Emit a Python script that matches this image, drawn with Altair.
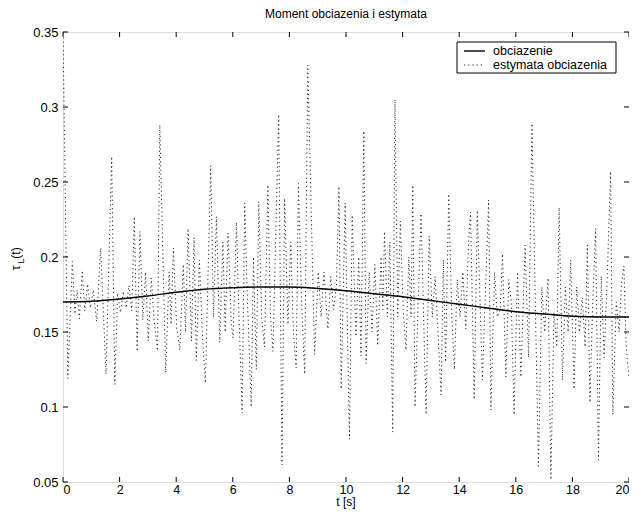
import altair as alt
import pandas as pd

# --- data -------------------------------------------------------------------
load_t = list(range(21))
load_v = [0.170, 0.1705, 0.172, 0.174, 0.1765, 0.1785, 0.1795, 0.180, 0.180, 0.179,
          0.1775, 0.1755, 0.1735, 0.171, 0.1685, 0.166, 0.1635, 0.162, 0.1605, 0.160, 0.160]

est_t = [0.00, 0.17, 0.33, 0.42, 0.50, 0.58, 0.68, 0.77, 0.87, 0.97, 1.07, 1.19, 1.33, 1.52,
         1.72, 1.83, 1.93, 2.03, 2.13, 2.23, 2.33, 2.43, 2.52, 2.62, 2.72, 2.82, 2.92, 3.01,
         3.12, 3.22, 3.34, 3.42, 3.63, 3.75, 3.82, 3.90, 4.02, 4.13, 4.25, 4.33, 4.42, 4.54,
         4.63, 4.71, 4.82, 4.92, 5.03, 5.22, 5.32, 5.42, 5.54, 5.65, 5.73, 5.83, 5.95, 6.01,
         6.13, 6.22, 6.33, 6.42, 6.52, 6.65, 6.73, 6.83, 6.92, 7.02, 7.12, 7.24, 7.33, 7.42,
         7.62, 7.74, 7.83, 7.95, 8.05, 8.14, 8.24, 8.32, 8.44, 8.54, 8.65, 8.89, 9.02, 9.12,
         9.22, 9.36, 9.46, 9.56, 9.66, 9.75, 9.83, 9.97, 10.12, 10.22, 10.35, 10.45, 10.53,
         10.63, 10.71, 10.82, 10.92, 11.02, 11.12, 11.24, 11.30, 11.36, 11.46, 11.55, 11.65,
         11.73, 11.83, 11.92, 12.02, 12.12, 12.22, 12.30, 12.36, 12.44, 12.55, 12.65, 12.83,
         12.94, 13.05, 13.15, 13.25, 13.36, 13.44, 13.52, 13.63, 13.74, 13.83, 13.93, 14.03,
         14.13, 14.23, 14.33, 14.40, 14.53, 14.64, 14.82, 15.04, 15.12, 15.25, 15.35, 15.45,
         15.53, 15.65, 15.75, 15.84, 15.94, 16.06, 16.18, 16.33, 16.45, 16.57, 16.80, 16.92,
         17.02, 17.14, 17.24, 17.35, 17.45, 17.53, 17.65, 17.75, 17.85, 17.94, 18.06, 18.15,
         18.25, 18.35, 18.45, 18.53, 18.62, 18.72, 18.82, 18.92, 19.02, 19.12, 19.22, 19.35,
         19.43, 19.55, 19.65, 19.73, 19.82, 19.90, 20.00]
est_v = [0.352, 0.119, 0.197, 0.162, 0.178, 0.159, 0.191, 0.164, 0.182, 0.166, 0.178, 0.157,
         0.206, 0.122, 0.267, 0.115, 0.176, 0.163, 0.177, 0.166, 0.181, 0.164, 0.227, 0.137,
         0.217, 0.158, 0.190, 0.144, 0.186, 0.158, 0.1375, 0.288, 0.123, 0.190, 0.155, 0.206,
         0.152, 0.138, 0.195, 0.150, 0.219, 0.144, 0.213, 0.131, 0.198, 0.150, 0.116, 0.261,
         0.160, 0.227, 0.143, 0.210, 0.150, 0.216, 0.155, 0.146, 0.223, 0.160, 0.096, 0.236,
         0.170, 0.100, 0.200, 0.125, 0.237, 0.160, 0.140, 0.248, 0.160, 0.137, 0.295, 0.0615,
         0.239, 0.155, 0.210, 0.150, 0.126, 0.249, 0.165, 0.122, 0.328, 0.135, 0.190, 0.160,
         0.190, 0.152, 0.187, 0.165, 0.180, 0.247, 0.112, 0.236, 0.0785, 0.228, 0.147, 0.200,
         0.134, 0.284, 0.129, 0.190, 0.150, 0.195, 0.141, 0.200, 0.165, 0.217, 0.160, 0.210,
         0.0833, 0.305, 0.160, 0.224, 0.165, 0.138, 0.200, 0.160, 0.248, 0.100, 0.170, 0.229,
         0.095, 0.214, 0.160, 0.187, 0.150, 0.108, 0.198, 0.130, 0.242, 0.160, 0.125, 0.185,
         0.160, 0.190, 0.152, 0.210, 0.230, 0.105, 0.231, 0.118, 0.238, 0.098, 0.190, 0.160,
         0.165, 0.202, 0.120, 0.185, 0.170, 0.0947, 0.190, 0.120, 0.208, 0.133, 0.289, 0.0605,
         0.180, 0.150, 0.186, 0.0515, 0.163, 0.140, 0.233, 0.118, 0.180, 0.150, 0.198, 0.112,
         0.180, 0.150, 0.173, 0.140, 0.208, 0.103, 0.170, 0.219, 0.0646, 0.187, 0.133, 0.180,
         0.257, 0.095, 0.170, 0.150, 0.181, 0.194, 0.140, 0.120]

series_names = ["obciazenie", "estymata obciazenia"]
x_ticks = [0, 2, 4, 6, 8, 10, 12, 14, 16, 18, 20]
y_ticks = [0.05, 0.1, 0.15, 0.2, 0.25, 0.3, 0.35]
chart_title = "Moment obciazenia i estymata"
x_title = "t [s]"

FONT = "Liberation Sans"
W, H = 566, 450
EST_DASH = [1.2, 3]
EST_COLOR = "#2a2a2a"

load_df = pd.DataFrame({"t": load_t, "v": load_v})
est_df = pd.DataFrame({"t": est_t, "v": est_v})
xt_df = pd.DataFrame({"t": x_ticks})
yt_df = pd.DataFrame({"v": y_ticks})

x_scale = alt.Scale(domain=[0, 20], nice=False, zero=False)
y_scale = alt.Scale(domain=[0.05, 0.35], nice=False, zero=False)

x_axis = alt.Axis(values=x_ticks, title=None, grid=False, ticks=False, domain=False,
                  labelPadding=1, labelFont=FONT, labelFontSize=12.5, labelColor="black")
y_axis = alt.Axis(values=y_ticks, title=None, grid=False, ticks=False, domain=False,
                  labelPadding=5, format="~g", labelFont=FONT, labelFontSize=13,
                  labelColor="black")

est_line = alt.Chart(est_df).mark_line(clip=True, color=EST_COLOR, strokeWidth=1,
                                       strokeDash=EST_DASH).encode(
    x=alt.X("t:Q", scale=x_scale, axis=x_axis),
    y=alt.Y("v:Q", scale=y_scale, axis=y_axis),
)

load_line = alt.Chart(load_df).mark_line(clip=True, color="black", strokeWidth=1.4,
                                         interpolate="monotone").encode(
    x=alt.X("t:Q", scale=x_scale),
    y=alt.Y("v:Q", scale=y_scale),
)

tick_style = dict(color="black", strokeWidth=1)
bottom_ticks = alt.Chart(xt_df).mark_rule(**tick_style).encode(
    x=alt.X("t:Q", scale=x_scale), y=alt.value(H), y2=alt.value(H - 5))
top_ticks = alt.Chart(xt_df).mark_rule(**tick_style).encode(
    x=alt.X("t:Q", scale=x_scale), y=alt.value(0), y2=alt.value(5))
left_ticks = alt.Chart(yt_df).mark_rule(**tick_style).encode(
    y=alt.Y("v:Q", scale=y_scale), x=alt.value(0), x2=alt.value(5))
right_ticks = alt.Chart(yt_df).mark_rule(**tick_style).encode(
    y=alt.Y("v:Q", scale=y_scale), x=alt.value(W), x2=alt.value(W - 5))


def txt(s, size, x, y, angle=0):
    return alt.Chart(pd.DataFrame({"s": [s]})).mark_text(
        font=FONT, fontSize=size, angle=angle, align="center", baseline="middle",
        color="black").encode(text="s:N", x=alt.value(x), y=alt.value(y))


# titles
title_txt = txt(chart_title, 12, W / 2, -18)
xtitle_txt = txt(x_title, 12, W / 2, H + 20)
# y-axis title  tau_L(t)  (rotated, with subscript)
tau = txt("τ", 13, -47, 236, 270)
sub_l = txt("L", 9, -42, 229, 270)
paren = txt("(t)", 12, -47, 221, 270)

# legend box (top-right, inside the axes)
leg_box = alt.Chart(pd.DataFrame({"a": [0]})).mark_rect(
    fill="white", stroke="black", strokeWidth=1).encode(
    x=alt.value(394), x2=alt.value(553), y=alt.value(10), y2=alt.value(41))
leg_l1 = alt.Chart(pd.DataFrame({"a": [0]})).mark_rule(color="black", strokeWidth=1.4).encode(
    x=alt.value(401), x2=alt.value(422), y=alt.value(19))
leg_l2 = alt.Chart(pd.DataFrame({"a": [0]})).mark_rule(
    color=EST_COLOR, strokeWidth=1, strokeDash=EST_DASH).encode(
    x=alt.value(401), x2=alt.value(422), y=alt.value(33))
leg_txt = alt.Chart(pd.DataFrame({"s": series_names, "yy": [19, 33]})).mark_text(
    font=FONT, fontSize=12.5, align="left", baseline="middle", color="black").encode(
    text="s:N", x=alt.value(430), y=alt.Y("yy:Q", scale=None))

chart = alt.layer(
    est_line, load_line, bottom_ticks, top_ticks, left_ticks, right_ticks,
    title_txt, xtitle_txt, tau, sub_l, paren, leg_box, leg_l1, leg_l2, leg_txt
).properties(
    width=W, height=H,
    autosize=alt.AutoSizeParams(type="none"),
    padding={"left": 55, "top": 24, "right": 0, "bottom": 27},
).configure_view(
    stroke="black", strokeWidth=1
).configure(background="white")

chart.save("out.html", embed_options={"renderer": "svg", "actions": False})
